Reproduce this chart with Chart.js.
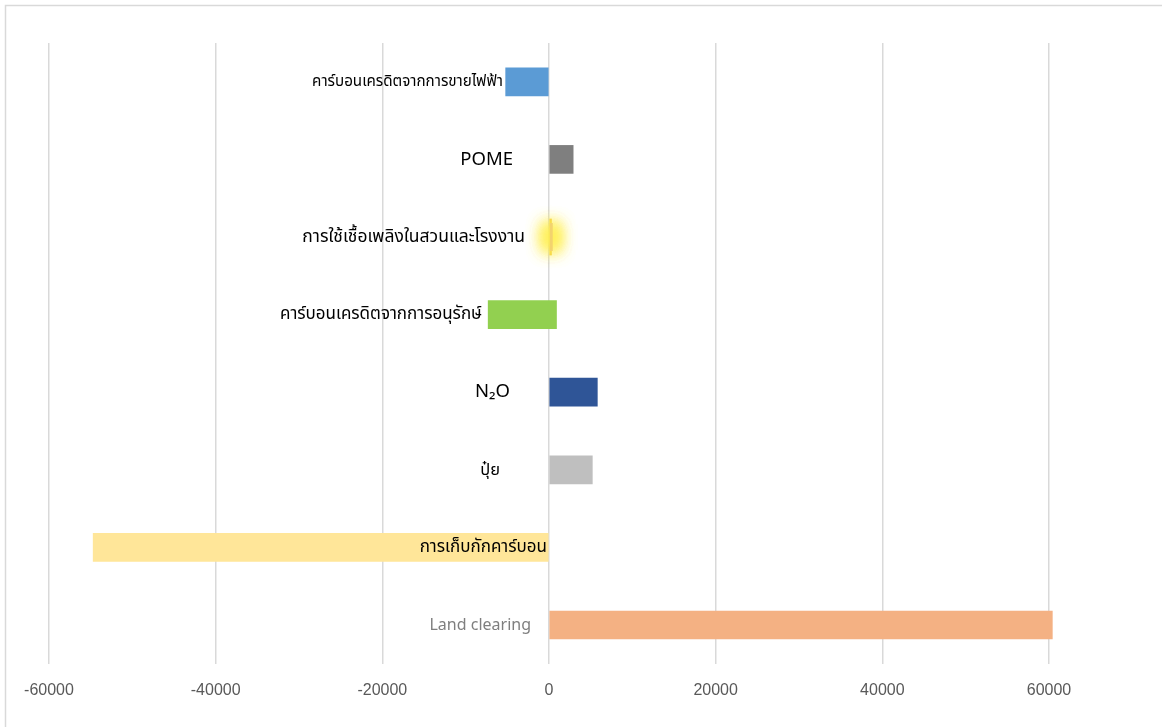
<!DOCTYPE html>
<html>
<head>
<meta charset="utf-8">
<script src="https://cdn.jsdelivr.net/npm/chart.js@4.4.1/dist/chart.umd.min.js"></script>
<style>
  html, body { margin: 0; padding: 0; background: #ffffff; }
  #wrap { width: 1163px; height: 727px; }
</style>
</head>
<body>
<div id="wrap"><canvas id="c" width="1163" height="727"></canvas></div>
<script>
// ---- data ----
const categories = [
  'คาร์บอนเครดิตจากการขายไฟฟ้า',
  'POME',
  'การใช้เชื้อเพลิงในสวนและโรงงาน',
  'คาร์บอนเครดิตจากการอนุรักษ์',
  'N₂O',
  'ปุ๋ย',
  'การเก็บกักคาร์บอน',
  'Land clearing'
];
const mainValues = [-5200, 2900, null, [-7300, 900], 5800, 5200, -54700, 60400];
const fuelValues = [null, null, 300, null, null, null, null, null];
const tickValues = [-60000, -40000, -20000, 0, 20000, 40000, 60000];

// ---- styles ----
const barColors = ['#5b9bd5', '#7f7f7f', '#ffd966', '#92d050', '#2f5597', '#bfbfbf', '#ffe699', '#f4b183'];
const labelStyle = [
  { dx: -46, size: 15.2, color: '#000000' },
  { dx: -36, size: 18.5, color: '#000000' },
  { dx: -24, size: 17.5, color: '#000000' },
  { dx: -67, size: 17,   color: '#000000' },
  { dx: -39, size: 18.5, color: '#000000' },
  { dx: -49, size: 16.5, color: '#000000' },
  { dx: -2,  size: 17,   color: '#000000' },
  { dx: -18, size: 16,   color: '#7f7f7f' }
];
const FONT = '"Noto Sans", "Noto Sans Thai", Tahoma, sans-serif';

const framePlugin = {
  id: 'frame',
  beforeDraw(chart) {
    const ctx = chart.ctx;
    ctx.save();
    ctx.fillStyle = '#ffffff';
    ctx.fillRect(0, 0, chart.width, chart.height);
    ctx.strokeStyle = '#d9d9d9';
    ctx.lineWidth = 1.5;
    ctx.beginPath();
    ctx.moveTo(5.5, chart.height);
    ctx.lineTo(5.5, 5.5);
    ctx.lineTo(1162, 5.5);
    ctx.stroke();
    ctx.restore();
  }
};

const glowPlugin = {
  id: 'glow',
  afterDatasetDraw(chart, args) {
    if (args.index !== 1) return;
    const ctx = chart.ctx;
    const meta = chart.getDatasetMeta(1);
    ctx.save();
    meta.data.forEach((el, i) => {
      if (fuelValues[i] == null) return;
      const p = el.getProps(['x', 'y', 'base', 'height'], true);
      const x0 = Math.min(p.x, p.base), w = Math.max(Math.abs(p.x - p.base), 3);
      const y0 = p.y - p.height / 2;
      const OFF = 5000;
      ctx.fillStyle = '#000';
      ctx.shadowColor = 'rgba(255, 240, 80, 0.9)';
      ctx.shadowBlur = 16;
      ctx.shadowOffsetX = OFF;
      for (let k = 0; k < 3; k++) ctx.fillRect(x0 - 6 - OFF, y0 + 5, w + 12, p.height - 10);
      ctx.shadowBlur = 0;
      ctx.shadowOffsetX = 0;
      ctx.fillStyle = '#f3d36e';
      ctx.fillRect(x0, y0 + 4, w, p.height - 8);
    });
    ctx.restore();
  }
};

const labelPlugin = {
  id: 'catLabels',
  afterDatasetsDraw(chart) {
    const ctx = chart.ctx;
    const xs = chart.scales.x, ys = chart.scales.y;
    const zero = xs.getPixelForValue(0);
    ctx.save();
    ctx.textAlign = 'right';
    ctx.textBaseline = 'middle';
    categories.forEach((lab, i) => {
      const st = labelStyle[i];
      ctx.font = st.size + 'px ' + FONT;
      ctx.fillStyle = st.color;
      ctx.fillText(lab, zero + st.dx, ys.getPixelForValue(i));
    });
    ctx.restore();
  }
};

new Chart(document.getElementById('c'), {
  type: 'bar',
  data: {
    labels: categories,
    datasets: [
      {
        data: mainValues,
        backgroundColor: barColors,
        barThickness: 28,
        grouped: false,
        clip: false
      },
      {
        data: fuelValues,
        backgroundColor: '#f2c94c',
        barThickness: 36,
        grouped: false,
        clip: false
      }
    ]
  },
  options: {
    indexAxis: 'y',
    responsive: false,
    animation: false,
    devicePixelRatio: 1,
    layout: { padding: { left: 49, right: 114, top: 43, bottom: 10 } },
    plugins: { legend: { display: false }, tooltip: { enabled: false } },
    scales: {
      x: {
        min: -60000,
        max: 60000,
        afterBuildTicks(scale) { scale.ticks = tickValues.map(v => ({ value: v })); },
        grid: { color: '#d9d9d9', lineWidth: 1.5, drawTicks: false },
        border: { display: false },
        ticks: {
          padding: 17,
          color: '#595959',
          font: { family: '"Liberation Sans", Arial, sans-serif', size: 16 },
          callback: v => String(v)
        }
      },
      y: {
        display: false
      }
    }
  },
  plugins: [framePlugin, glowPlugin, labelPlugin]
});
</script>
</body>
</html>
